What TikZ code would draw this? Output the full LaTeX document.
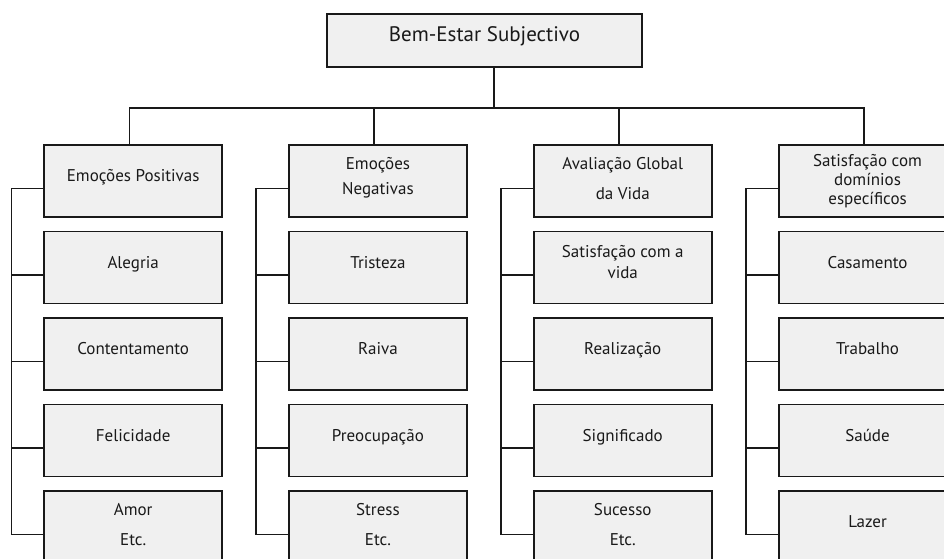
\documentclass[tikz,border=0pt]{standalone}
\usepackage{fontspec}
\setmainfont{PT Sans}
\begin{document}
\begin{tikzpicture}[x=1pt,y=-1pt,
  box/.style={draw=black!90, line width=1.8pt, fill=black!6, minimum width=177.7pt, minimum height=72pt, inner sep=0pt},
  rootbox/.style={draw=black!90, line width=1.8pt, fill=black!6, minimum width=315pt, minimum height=52.7pt, inner sep=0pt},
  conn/.style={draw=black!90, line width=1.8pt},
  txt/.style={anchor=base, inner sep=0pt, text=black!90, font=\fontsize{17}{20}\selectfont},
  title/.style={anchor=base, inner sep=0pt, text=black!90, font=\fontsize{21}{25}\selectfont}]
\clip (0,0) rectangle (944,558);
\fill[white] (0,0) rectangle (944,558);

% root
\node[rootbox] (root) at (484.5,40.35) {};
\node[title] (troot) at ([yshift=-28.7pt]root.north) {Bem-Estar Subjectivo};

% grid of boxes: 4 columns x 5 rows
\foreach \i in {1,...,4}{
  \foreach \j in {1,...,5}{
    \node[box] (c\i-\j) at ({44.3+244.8*(\i-1)+88.85},{145+86.5*(\j-1)+36}) {};
  }
}

% tree from the root to the column heads
\coordinate (hub) at (494,108);
\draw[conn] (root.south -| hub) -- (hub);
\draw[conn] ([xshift=-3.6pt]c1-1.north) |- (hub) -| ([xshift=-3.6pt]c4-1.north);
\draw[conn] ([xshift=-3.6pt]c2-1.north) -- ([xshift=-3.6pt]c2-1.north |- hub);
\draw[conn] ([xshift=-3.6pt]c3-1.north) -- ([xshift=-3.6pt]c3-1.north |- hub);

% spines down each column
\foreach \i in {1,...,4}{
  \draw[conn] ([yshift=-7.5pt]c\i-1.west) -- ++(-32,0) |- ([yshift=-7.5pt]c\i-5.west);
  \foreach \j in {2,3,4}{
    \draw[conn] ([yshift=-7.5pt]c\i-\j.west) -- ++(-32,0);
  }
}

% column 1
\node[txt] (t11) at ([yshift=-37.8pt]c1-1.north) {Emoções Positivas};
\node[txt] (t12) at ([yshift=-37.8pt]c1-2.north) {Alegria};
\node[txt] (t13) at ([yshift=-37.8pt]c1-3.north) {Contentamento};
\node[txt] (t14) at ([yshift=-37.8pt]c1-4.north) {Felicidade};
\node[txt] (t15a) at ([yshift=-25.7pt]c1-5.north) {Amor};
\node[txt] (t15b) at ([yshift=-55.5pt]c1-5.north) {Etc.};

% column 2
\node[txt] (t21a) at ([yshift=-25.7pt]c2-1.north) {Emoções};
\node[txt] (t21b) at ([yshift=-50.3pt]c2-1.north) {Negativas};
\node[txt] (t22) at ([yshift=-37.8pt]c2-2.north) {Tristeza};
\node[txt] (t23) at ([yshift=-37.8pt]c2-3.north) {Raiva};
\node[txt] (t24) at ([yshift=-37.8pt]c2-4.north) {Preocupação};
\node[txt] (t25a) at ([yshift=-25.7pt]c2-5.north) {Stress};
\node[txt] (t25b) at ([yshift=-55.5pt]c2-5.north) {Etc.};

% column 3
\node[txt] (t31a) at ([yshift=-25.7pt]c3-1.north) {Avaliação Global};
\node[txt] (t31b) at ([yshift=-55.3pt]c3-1.north) {da Vida};
\node[txt] (t32a) at ([yshift=-26.5pt]c3-2.north) {Satisfação com a};
\node[txt] (t32b) at ([yshift=-47.5pt]c3-2.north) {vida};
\node[txt] (t33) at ([yshift=-37.8pt]c3-3.north) {Realização};
\node[txt] (t34) at ([yshift=-37.8pt]c3-4.north) {Significado};
\node[txt] (t35a) at ([yshift=-25.7pt]c3-5.north) {Sucesso};
\node[txt] (t35b) at ([yshift=-55.5pt]c3-5.north) {Etc.};

% column 4
\node[txt] (t41a) at ([yshift=-22.3pt]c4-1.north) {Satisfação com};
\node[txt] (t41b) at ([yshift=-41pt]c4-1.north) {domínios};
\node[txt] (t41c) at ([yshift=-60pt]c4-1.north) {específicos};
\node[txt] (t42) at ([yshift=-37.8pt]c4-2.north) {Casamento};
\node[txt] (t43) at ([yshift=-37.8pt]c4-3.north) {Trabalho};
\node[txt] (t44) at ([yshift=-37.8pt]c4-4.north) {Saúde};
\node[txt] (t45) at ([yshift=-37.8pt]c4-5.north) {Lazer};
\end{tikzpicture}
\end{document}
